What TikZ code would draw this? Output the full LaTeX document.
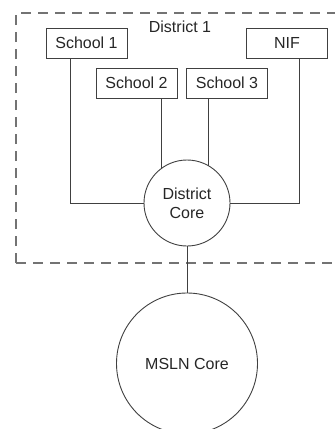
\documentclass[tikz,border=0pt]{standalone}
\usepackage{fontspec}
\setmainfont{Liberation Sans}
\begin{document}
\begin{tikzpicture}[x=1pt,y=-1pt,
  every node/.style={font=\fontsize{16}{19}\selectfont, text=black!85},
  box/.style={draw=black!75, line width=0.9pt, rectangle, minimum width=81pt, minimum height=30pt, inner sep=0pt},
  core/.style={draw=black!75, line width=0.9pt, circle, inner sep=0pt, align=center},
  link/.style={draw=black!75, line width=0.9pt},
  region/.style={draw=black!55, line width=1.6pt, dash pattern=on 10pt off 7pt}]
\useasboundingbox (0,0) rectangle (335,429);
\clip (0,0) rectangle (335,429);
\draw[region] (16,263) -- (16,13) -- (345,13);
\draw[region] (16,263) -- (345,263);
\node at (180,27) (d1) {District 1};
\node[box] (s1) at (86.5,43) {School 1};
\node[box] (nif) at (287,43) {NIF};
\node[box] (s2) at (136.5,83) {School 2};
\node[box] (s3) at (227,83) {School 3};
\node[core, minimum size=86pt] (dc) at (187,203) {District\\Core};
\node[core, minimum size=141pt] (ms) at (187,363.5) {MSLN Core};
\coordinate (c1) at (70,203);
\coordinate (c4) at (299,203);
\coordinate (t2) at (161,98);
\coordinate (e2) at (161,168.7);
\coordinate (t3) at (208,98);
\coordinate (e3) at (208,165.5);
\draw[link] (s1.south -| c1) -- (c1) -- (dc.west);
\draw[link] (nif.south -| c4) -- (c4) -- (dc.east);
\draw[link] (t2) -- (e2);
\draw[link] (t3) -- (e3);
\draw[link] (dc.south) -- (ms.north);
\end{tikzpicture}
\end{document}
